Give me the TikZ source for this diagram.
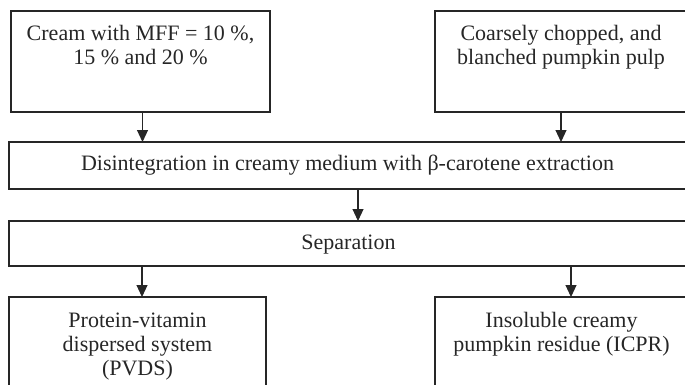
\documentclass[tikz,border=0pt]{standalone}
\usepackage{fontspec}
\setmainfont{Liberation Serif}
\usetikzlibrary{arrows.meta}
\tikzset{
  box/.style={draw=black!85, line width=1.1pt, anchor=north west, inner sep=0pt, outer sep=0pt},
  txt/.style={font=\fontsize{22}{24.3}\selectfont, text=black!85, align=center, inner sep=0pt, anchor=base},
  arr/.style={draw=black!85, line width=1.1pt, -{Triangle[width=11pt,length=12pt]}}
}
\begin{document}
\begin{tikzpicture}[x=1pt,y=-1pt]
\useasboundingbox (0,0) rectangle (685,384);
\clip (0,0) rectangle (685,384);
% boxes
\node[box, minimum width=259pt, minimum height=101pt] (cream) at (11,11) {};
\node[box, minimum width=252pt, minimum height=101pt] (coarse) at (435,11) {};
\node[box, minimum width=677pt, minimum height=47pt] (disint) at (9,142) {};
\node[box, minimum width=677pt, minimum height=45pt] (sep) at (9,221) {};
\node[box, minimum width=257pt, minimum height=110pt] (pvds) at (9,297) {};
\node[box, minimum width=253pt, minimum height=110pt] (icpr) at (435,297) {};
% texts (base anchor = baseline of last line)
\node[txt] (creamt) at (140.5,64.3) {Cream with MFF = 10 \%,\\15 \% and 20 \%};
\node[txt] (coarset) at (561,64.3) {Coarsely chopped, and\\blanched pumpkin pulp};
\node[txt] (disintt) at (347.5,170.7) {Disintegration in creamy medium with β-carotene extraction};
\node[txt] (sept) at (348.5,249) {Separation};
\node[txt] (pvdst) at (137.5,375.6) {Protein-vitamin\\dispersed system\\(PVDS)};
\node[txt] (icprt) at (561.5,351.3) {Insoluble creamy\\pumpkin residue (ICPR)};
% arrows
\draw[arr] ([xshift=2pt]cream.south) -- ([xshift=2pt]cream.south |- disint.north);
\draw[arr] (coarse.south) -- (coarse.south |- disint.north);
\draw[arr] ([xshift=10.5pt]disint.south) -- ([xshift=10.5pt]disint.south |- sep.north);
\draw[arr] ([xshift=4.5pt]pvds.north |- sep.south) -- ([xshift=4.5pt]pvds.north);
\draw[arr] ([xshift=9.5pt]icpr.north |- sep.south) -- ([xshift=9.5pt]icpr.north);
\end{tikzpicture}
\end{document}
